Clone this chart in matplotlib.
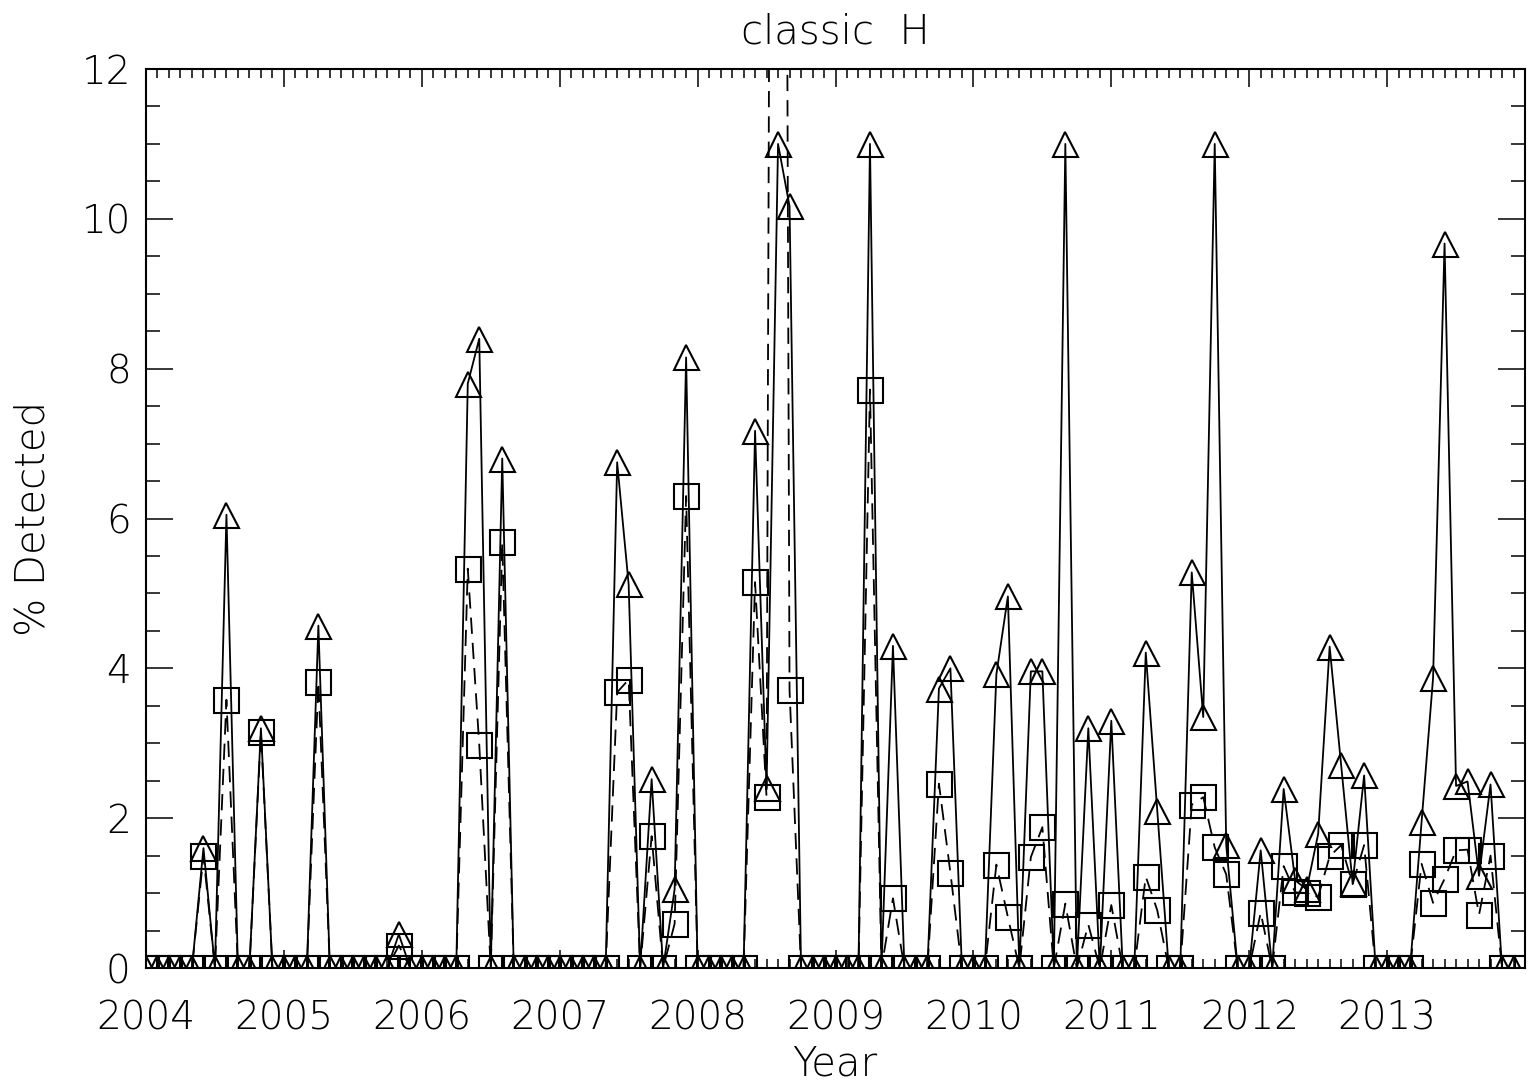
import numpy as np
import matplotlib
matplotlib.use("Agg")
import matplotlib.pyplot as plt
from matplotlib.ticker import MultipleLocator

plt.rcParams['font.family'] = ['DejaVu Sans']
plt.rcParams['font.weight'] = 'light'

# monthly values, Jan 2004 .. Dec 2013 (one row per year)
tri_vals = [
    0, 0, 0, 0, 0, 1.6, 0, 6.05, 0, 0, 3.2, 0,            # 2004
    0, 0, 0, 4.57, 0, 0, 0, 0, 0, 0, 0.45, 0,             # 2005
    0, 0, 0, 0, 7.8, 8.4, 0, 6.8, 0, 0, 0, 0,             # 2006
    0, 0, 0, 0, 0, 6.75, 5.12, 0, 2.52, 0, 1.05, 8.15,    # 2007
    0, 0, 0, 0, 0, 7.17, 2.4, 11.0, 10.17, 0, 0, 0,       # 2008
    0, 0, 0, 11.0, 0, 4.3, 0, 0, 0, 3.73, 4.0, 0,         # 2009
    0, 0, 3.92, 4.96, 0, 3.96, 3.96, 0, 11.0, 0, 3.2, 0,  # 2010
    3.3, 0, 0, 4.21, 2.1, 0, 0, 5.28, 3.35, 11.0, 1.64, 0,  # 2011
    0, 1.57, 0, 2.39, 1.17, 1.05, 1.79, 4.29, 2.71, 1.13, 2.57, 0,  # 2012
    0, 0, 0, 1.95, 3.87, 9.67, 2.43, 2.49, 1.23, 2.45, 0, 0,  # 2013
]
sq_vals = [
    0, 0, 0, 0, 0, 1.5, 0, 3.58, 0, 0, 3.15, 0,
    0, 0, 0, 3.82, 0, 0, 0, 0, 0, 0, 0.3, 0,
    0, 0, 0, 0, 5.33, 2.98, 0, 5.68, 0, 0, 0, 0,
    0, 0, 0, 0, 0, 3.68, 3.85, 0, 1.76, 0, 0.59, 6.3,
    0, 0, 0, 0, 0, 5.15, 2.28, 48.0, 3.71, 0, 0, 0,
    0, 0, 0, 7.72, 0, 0.93, 0, 0, 0, 2.46, 1.27, 0,
    0, 0, 1.38, 0.68, 0, 1.48, 1.88, 0, 0.86, 0, 0.58, 0,
    0.84, 0, 0, 1.22, 0.77, 0, 0, 2.18, 2.28, 1.61, 1.25, 0,
    0, 0.74, 0, 1.36, 1.01, 1.0, 0.95, 1.49, 1.64, 1.12, 1.64, 0,
    0, 0, 0, 1.39, 0.87, 1.19, 1.57, 1.58, 0.71, 1.5, 0, 0,
]
years = 2004 + np.arange(len(tri_vals)) / 12.0

fig = plt.figure(figsize=(15.3, 10.85), dpi=100)
ax = fig.add_axes([146/1530, 1 - 968/1085, 1379/1530, 899/1085])

ax.plot(years, tri_vals, '-', color='black', lw=1.3,
        marker='^', ms=18, mfc='none', mec='black', mew=1.5)
ax.plot(years, sq_vals, color='black', lw=1.3, ls=(0, (9, 5)),
        marker='s', ms=18, mfc='none', mec='black', mew=1.5)

ax.set_xlim(2004, 2014)
ax.set_ylim(0, 12)
ax.xaxis.set_major_locator(MultipleLocator(1))
ax.xaxis.set_minor_locator(MultipleLocator(1/12))
ax.yaxis.set_major_locator(MultipleLocator(2))
ax.yaxis.set_minor_locator(MultipleLocator(0.5))
ax.set_xticks(np.arange(2004, 2014), [str(y) for y in range(2004, 2014)])

ax.tick_params(axis='both', which='both', direction='in', top=True, right=True,
               width=1.1, colors='black', labelsize=28)
ax.tick_params(axis='x', which='major', length=13, pad=23)
ax.tick_params(axis='x', which='minor', length=6.5)
ax.tick_params(axis='y', which='major', length=19.5, pad=11)
ax.tick_params(axis='y', which='minor', length=10)
for s in ax.spines.values():
    s.set_linewidth(1.5)

fig.text(835/1530, 1 - 32/1085, 'classic  H', ha='center', va='center', fontsize=29)
fig.text(835/1530, 1 - 1064/1085, 'Year', ha='center', va='center', fontsize=29)
fig.text(33/1530, 1 - 518/1085, '% Detected', ha='center', va='center',
         rotation=90, fontsize=29)

fig.savefig('out.png', dpi=100)
